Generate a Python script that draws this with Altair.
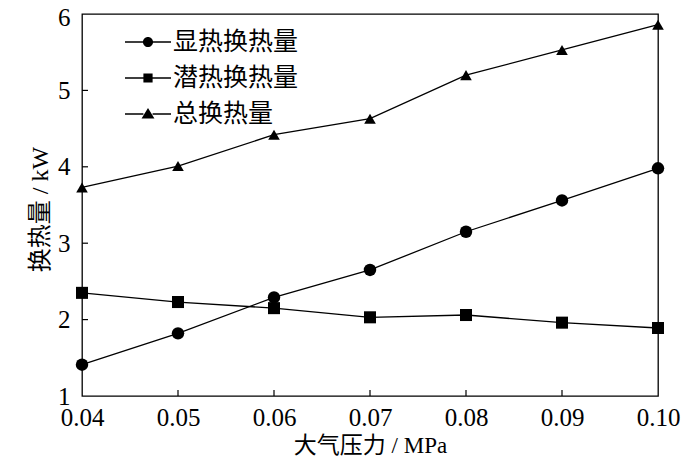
import altair as alt
import pandas as pd

# ---- data ----
pressure = [0.04, 0.05, 0.06, 0.07, 0.08, 0.09, 0.10]
sensible = [1.41, 1.82, 2.29, 2.65, 3.15, 3.56, 3.98]
latent = [2.35, 2.23, 2.15, 2.03, 2.06, 1.96, 1.89]
total = [3.73, 4.01, 4.42, 4.63, 5.20, 5.53, 5.86]
series_names = ["显热换热量", "潜热换热量", "总换热量"]
x_label_values = [0.04, 0.05, 0.06, 0.07, 0.08, 0.09, 0.10]
y_label_values = [1, 2, 3, 4, 5, 6]
x_tick_values = [0.05, 0.06, 0.07, 0.08, 0.09]
y_tick_values = [2, 3, 4, 5]

rows = []
for name, vals in zip(series_names, [sensible, latent, total]):
    for p, v in zip(pressure, vals):
        rows.append({"p": p, "q": v, "s": name})
df = pd.DataFrame(rows)

W, H = 576, 382
FONT = "Liberation Serif, Noto Sans CJK SC"

xscale = alt.Scale(domain=[0.04, 0.10], nice=False, zero=False)
yscale = alt.Scale(domain=[1, 6], nice=False, zero=False)

xaxis = alt.Axis(
    values=x_label_values, format=".2f", ticks=False, domain=False, grid=False,
    labelFontSize=25, labelFont=FONT, labelColor="black", labelPadding=9,
    labelFlush=False, labelOverlap=False,
    title="大气压力 / MPa", titleFont=FONT, titleFontSize=23,
    titleFontWeight="normal", titleColor="black",
    titleX=288, titleY=49, titleBaseline="middle", titleAlign="center",
)
yaxis = alt.Axis(
    values=y_label_values, format="d", ticks=False, domain=False, grid=False,
    labelFontSize=25, labelFont=FONT, labelColor="black", labelPadding=12,
    labelFlush=False, labelOverlap=False, labelBaseline="middle",
    labelOffset={"condition": {"test": "datum.value === 6", "value": 3}, "value": 0},
    title="换热量 / kW", titleFont=FONT, titleFontSize=24,
    titleFontWeight="normal", titleColor="black",
    titleX=-42, titleY=195, titleAngle=270, titleBaseline="middle",
    titleAlign="center",
)

base = alt.Chart(df).encode(
    x=alt.X("p:Q", scale=xscale, axis=xaxis),
    y=alt.Y("q:Q", scale=yscale, axis=yaxis),
)

lines = base.mark_line(color="black", strokeWidth=1.3).encode(detail="s:N")

points = base.mark_point(filled=True, color="black", opacity=1).encode(
    shape=alt.Shape("s:N", scale=alt.Scale(domain=series_names,
                                           range=["circle", "square", "triangle-up"]),
                    legend=None),
    size=alt.Size("s:N", scale=alt.Scale(domain=series_names, range=[155, 135, 210]),
                  legend=None),
)

# legend symbols: line with marker in the middle (custom SVG paths)
seg = "M-1,-0.028H-0.2V0.028H-1Z M0.2,-0.028H1V0.028H0.2Z "
legend_paths = [
    seg + "M0.22,0A0.22,0.22 0 1,1 -0.22,0A0.22,0.22 0 1,1 0.22,0Z",
    seg + "M-0.2,-0.2H0.2V0.2H-0.2Z",
    seg + "M0,-0.26L0.28,0.2H-0.28Z",
]
LEG_SIZE = 2116
legend_layer = base.mark_point(filled=True, color="black", opacity=0, size=LEG_SIZE).encode(
    shape=alt.Shape(
        "s:N",
        scale=alt.Scale(domain=series_names, range=legend_paths),
        legend=alt.Legend(
            title=None, orient="none", legendX=43, legendY=5,
            labelFont=FONT, labelFontSize=25, labelColor="black",
            labelOffset=2, rowPadding=-17, padding=0, labelLimit=300,
            symbolSize=LEG_SIZE, symbolFillColor="black",
            symbolStrokeWidth=0, symbolOpacity=1,
        ),
    )
)

xt = alt.Chart(pd.DataFrame({"p": x_tick_values})).mark_rule(
    color="black", strokeWidth=1.2
).encode(
    x=alt.X("p:Q", scale=xscale, axis=xaxis),
    y=alt.value(H), y2=alt.value(H - 6),
)
yt = alt.Chart(pd.DataFrame({"q": y_tick_values})).mark_rule(
    color="black", strokeWidth=1.2
).encode(
    y=alt.Y("q:Q", scale=yscale, axis=yaxis),
    x=alt.value(0), x2=alt.value(6),
)

chart = (
    alt.layer(lines, points, legend_layer, xt, yt)
    .resolve_scale(shape="independent", size="independent")
    .properties(
        width=W, height=H,
        autosize=alt.AutoSizeParams(type="none"),
        padding={"left": 74, "top": 6, "right": 34, "bottom": 62},
        background="white",
    )
    .configure_view(stroke="black", strokeWidth=1.3)
)

chart.save("out.html", embed_options={"renderer": "svg", "actions": False})
